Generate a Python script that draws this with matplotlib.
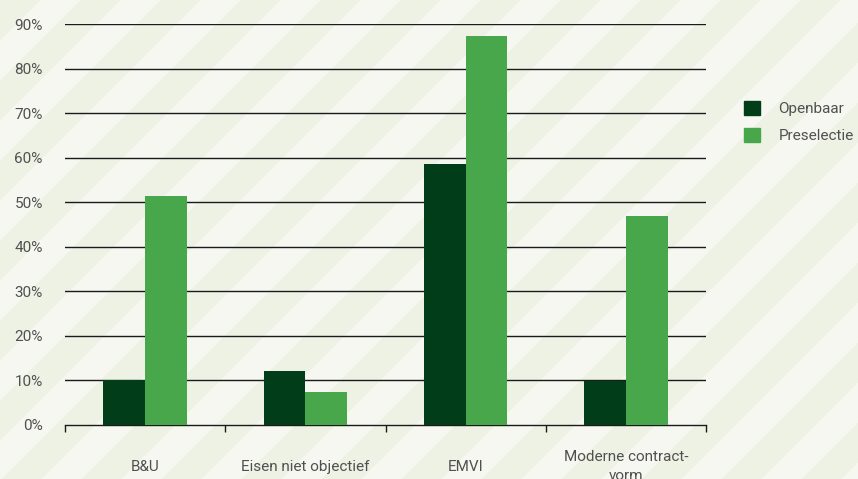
import numpy as np
import matplotlib
matplotlib.use("Agg")
import matplotlib.pyplot as plt
from matplotlib.patches import Patch

categories = ["B&U", "Eisen niet objectief", "EMVI", "Moderne contract-\nvorm"]
openbaar = [10.1, 12.1, 58.5, 9.9]
preselectie = [51.5, 7.4, 87.2, 47.0]
series_names = ["Openbaar", "Preselectie"]
yticks = [0, 10, 20, 30, 40, 50, 60, 70, 80, 90]
ytick_labels = [f"{v}%" for v in yticks]

DARK = "#003d18"
LIGHT = "#47a74a"
TEXT = "#505050"

plt.rcParams['font.family'] = ['Roboto', 'DejaVu Sans']

W, H = 858, 479
fig = plt.figure(figsize=(W / 100, H / 100), dpi=100)

# striped background
bg = fig.add_axes([0, 0, 1, 1])
yy, xx = np.mgrid[0:H, 0:W]
stripes = ((xx + yy - 1040) // 40) % 2
c1 = np.array([246, 247, 240]) / 255.0
c2 = np.array([238, 242, 229]) / 255.0
img = np.where(stripes[..., None] == 0, c2, c1)
bg.imshow(img, aspect='auto', interpolation='nearest')
bg.set_axis_off()

left, right, top, bottom = 65, 706, 24, 425
ax = fig.add_axes([left / W, (H - bottom) / H, (right - left) / W, (bottom - top) / H])
ax.patch.set_alpha(0)

x = np.arange(len(categories))
bw = 0.26
ax.bar(x - bw / 2, openbaar, bw, color=DARK, zorder=3, label=series_names[0])
ax.bar(x + bw / 2, preselectie, bw, color=LIGHT, zorder=3, label=series_names[1])

ax.set_xlim(-0.5, len(categories) - 0.5)
ax.set_ylim(0, 90)
for v in yticks[1:]:
    ax.axhline(v, color="#1a1a1a", lw=1.0, zorder=1)

for s in ["top", "right", "left"]:
    ax.spines[s].set_visible(False)
ax.spines["bottom"].set_color("#1a1a1a")
ax.spines["bottom"].set_linewidth(1.0)

ax.set_yticks(yticks)
ax.set_yticklabels(ytick_labels, color=TEXT, fontsize=11)
ax.tick_params(axis='y', length=0, pad=16)

ax.set_xticks(np.arange(len(categories) + 1) - 0.5)
ax.set_xticklabels([])
ax.tick_params(axis='x', which='major', length=5, width=1.0, color="#1a1a1a", direction='out')
ax.set_xticks(x, minor=True)
ax.set_xticklabels(categories, minor=True, color=TEXT, fontsize=11, linespacing=1.45)
ax.tick_params(axis='x', which='minor', length=0, pad=30)
for lab in ax.get_xticklabels(minor=True):
    lab.set_verticalalignment('center')

handles = [Patch(color=DARK), Patch(color=LIGHT)]
leg = fig.legend(handles, series_names, loc='upper left',
                 bbox_to_anchor=(744 / W, 1 - 101 / H), frameon=False,
                 fontsize=11, handlelength=1.05, handleheight=1.05,
                 handletextpad=1.2, labelspacing=0.75, borderpad=0, borderaxespad=0)
for t in leg.get_texts():
    t.set_color(TEXT)

fig.savefig("out.png", dpi=100)
